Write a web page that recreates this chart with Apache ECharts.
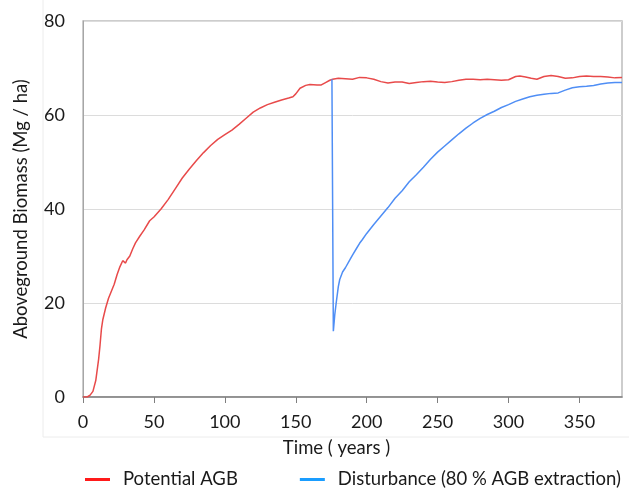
<!DOCTYPE html>
<html>
<head>
<meta charset="utf-8">
<script src="https://cdn.jsdelivr.net/npm/echarts@6/dist/echarts.min.js"></script>
<style>
html,body{margin:0;padding:0;background:#fff;}
#chart{width:629px;height:490px;}
</style>
</head>
<body>
<div id="chart"></div>
<script>
// Potential AGB (red)
var agbYears = [0,3,5,7,9,11,12,13,14,16,18,20,22,24,26,28,29,30,31,33,35,37,40,43,47,50,55,60,65,70,75,80,85,90,95,100,105,110,115,120,125,130,135,140,145,148,150,153,157,160,165,168,171,174,176,180,185,190,195,200,205,210,215,220,225,230,235,240,245,250,255,260,265,270,275,280,285,290,295,300,305,308,312,316,320,325,330,335,340,345,350,355,360,365,370,375,380];
var agbValues = [0,0,0.4,1.2,3.5,8,11,14.5,16.5,19,21,22.5,24,26,27.7,29,29.2,28.5,29.2,30,31.5,32.8,34.2,35.5,37.5,38.3,40,42,44.3,46.6,48.5,50.3,52,53.5,54.8,55.8,56.8,58,59.3,60.6,61.5,62.2,62.7,63.2,63.6,63.9,64.5,65.7,66.3,66.5,66.4,66.4,66.9,67.4,67.6,67.8,67.7,67.6,68,67.9,67.6,67.1,66.8,67,67,66.7,66.9,67.1,67.2,67,66.9,67.1,67.4,67.6,67.6,67.5,67.6,67.5,67.4,67.5,68.2,68.3,68.1,67.8,67.6,68.2,68.4,68.2,67.8,67.9,68.2,68.3,68.2,68.2,68.1,67.9,68];
// Disturbance (blue)
var distYears = [175.5,176.5,177.5,178.5,180,181,183,185,188,190,193,195,197,200,205,210,215,220,225,230,235,240,245,250,255,260,265,270,275,280,285,290,295,300,305,310,315,320,325,330,335,340,345,350,355,360,365,370,375,380];
var distValues = [67.6,14,17.5,20,23.5,25,26.6,27.5,29.1,30.2,31.7,32.7,33.5,34.8,36.7,38.5,40.3,42.3,43.9,45.8,47.3,48.9,50.6,52.1,53.4,54.7,56,57.2,58.3,59.3,60.1,60.8,61.6,62.2,62.9,63.4,63.9,64.2,64.4,64.6,64.7,65.3,65.8,66,66.1,66.3,66.6,66.8,66.9,66.9];
var seriesNames = ['Potential AGB', 'Disturbance (80 % AGB extraction)'];
var xTitle = 'Time ( years )';
var yTitle = 'Aboveground Biomass (Mg / ha)';

function pairs(xs, ys){ return xs.map(function(x,i){ return [x, ys[i]]; }); }

var FONT = 'Lato';
var chart = echarts.init(document.getElementById('chart'), null, {renderer:'canvas'});
chart.setOption({
  animation: false,
  backgroundColor: '#fff',
  textStyle: {fontFamily: FONT},
  graphic: [
    {type:'line', shape:{x1:43, y1:0, x2:43, y2:437}, style:{stroke:'#ececec', lineWidth:1}, silent:true},
    {type:'line', shape:{x1:43, y1:437, x2:629, y2:437}, style:{stroke:'#ececec', lineWidth:1}, silent:true}
  ],
  grid: {left: 83, right: 7, top: 21, bottom: 93, show: true, borderColor: '#bdbdbd', borderWidth: 1.5},
  legend: {
    top: 470, left: 85, width: 560, itemGap: 62, orient: 'horizontal', padding: 0,
    itemWidth: 25, itemHeight: 3, icon: 'rect',
    textStyle: {fontFamily: FONT, fontSize: 18.5, color: '#1a1a1a', padding: [0,0,0,8]},
    data: [
      {name: seriesNames[0], itemStyle: {color: '#ff1a1a'}},
      {name: seriesNames[1], itemStyle: {color: '#1a9dff'}}
    ]
  },
  xAxis: {
    type: 'value', min: 0, max: 380, interval: 50,
    name: xTitle, nameLocation: 'middle', nameGap: 42,
    nameTextStyle: {fontFamily: FONT, fontSize: 18.5, color: '#1a1a1a', padding: [0,32,0,0]},
    axisLine: {lineStyle: {color: '#7f7f7f', width: 1.5}},
    axisTick: {show: true, length: 6, lineStyle: {color: '#7f7f7f'}},
    axisLabel: {fontFamily: FONT, fontSize: 18, color: '#1a1a1a', margin: 16, showMaxLabel: false},
    splitLine: {show: false}
  },
  yAxis: {
    type: 'value', min: 0, max: 80, interval: 20,
    name: yTitle, nameLocation: 'middle', nameGap: 52,
    nameTextStyle: {fontFamily: FONT, fontSize: 18.5, color: '#1a1a1a'},
    axisLine: {show: true, lineStyle: {color: '#a6a6a6', width: 1}},
    axisTick: {show: false},
    axisLabel: {fontFamily: FONT, fontSize: 18, color: '#1a1a1a', margin: 18},
    splitLine: {show: true, lineStyle: {color: '#dcdcdc', width: 1}}
  },
  series: [
    {name: seriesNames[0], type: 'line', data: pairs(agbYears, agbValues), showSymbol: false,
     lineStyle: {color: '#e84a4a', width: 1.5}, itemStyle: {color: '#e84a4a'}},
    {name: seriesNames[1], type: 'line', data: pairs(distYears, distValues), showSymbol: false,
     lineStyle: {color: '#4f8ef5', width: 1.5}, itemStyle: {color: '#4f8ef5'}}
  ]
});
</script>
</body>
</html>
